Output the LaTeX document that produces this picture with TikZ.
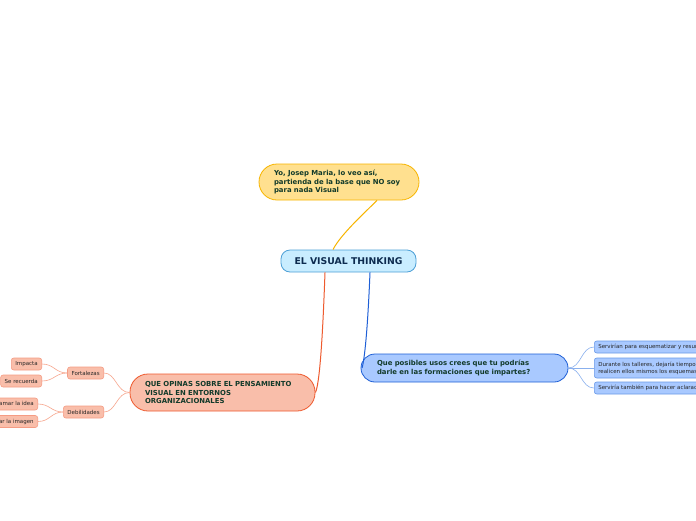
\documentclass[tikz,border=0pt]{standalone}
\usepackage{fontspec}
\setmainfont{DejaVu Sans}
\usetikzlibrary{calc}
\definecolor{navy}{HTML}{0D2B4F}
\definecolor{dkgreen}{HTML}{123A2A}
\definecolor{cfill}{HTML}{C9EDFF}
\definecolor{cdraw}{HTML}{4C9FD6}
\definecolor{tfill}{HTML}{FFE08F}
\definecolor{tdraw}{HTML}{F7B500}
\definecolor{lfill}{HTML}{F9BEAA}
\definecolor{ldraw}{HTML}{EE5A2E}
\definecolor{lsdraw}{HTML}{F59C84}
\definecolor{lsline}{HTML}{F7A68E}
\definecolor{rfill}{HTML}{A9C9FF}
\definecolor{rdraw}{HTML}{1E5FD6}
\definecolor{rsdraw}{HTML}{6A9AE8}
\definecolor{rsline}{HTML}{8AB0EE}
\begin{document}
\begin{tikzpicture}[x=1pt,y=-1pt,
  central/.style={draw=cdraw,fill=cfill,line width=0.8pt,rounded corners=9pt,
    minimum width=135pt,minimum height=22pt,inner sep=0pt,text=navy,
    font=\fontsize{9.3}{10}\selectfont\bfseries},
  mainbox/.style={line width=0.8pt,inner xsep=15pt,inner ysep=0pt,align=left,
    text=dkgreen,font=\fontsize{6.9}{8.5}\selectfont\bfseries},
  smallbox/.style={line width=0.6pt,rounded corners=2.5pt,inner xsep=4pt,inner ysep=0pt,
    align=left,text=black!85,font=\fontsize{5.5}{7}\selectfont},
  lsub/.style={smallbox,draw=lsdraw,fill=lfill,minimum height=12pt},
  rsub/.style={smallbox,draw=rsdraw,fill=rfill},
  mainline/.style={line width=1pt},
  subline/.style={line width=0.6pt}]
\useasboundingbox (0,0) rectangle (696,520);
\clip (0,0) rectangle (696,520);
\fill[white] (0,0) rectangle (696,520);

% nodes
\node[central] (c) at (348.5,261) {EL VISUAL THINKING};
\node[mainbox,draw=tdraw,fill=tfill,rounded corners=18pt,text width=130pt,minimum height=36pt] (t) at (339,182)
  {Yo, Josep Maria, lo veo así,\\partienda de la base que NO soy\\para nada Visual};
\node[mainbox,draw=ldraw,fill=lfill,rounded corners=18pt,text width=155pt,minimum height=37pt] (lm) at (222.5,392.5)
  {QUE OPINAS SOBRE EL PENSAMIENTO\\VISUAL EN ENTORNOS\\ORGANIZACIONALES};
\node[mainbox,draw=rdraw,fill=rfill,rounded corners=14pt,inner xsep=16pt,text width=175pt,minimum height=28pt] (rm) at (464.5,368)
  {Que posibles usos crees que tu podrías\\darle en las formaciones que impartes?};

\node[lsub,anchor=east] (fo) at (104,373) {Fortalezas};
\node[lsub,anchor=east] (de) at (104,412) {Debilidades};
\node[lsub,anchor=east] (im) at (42,364) {Impacta};
\node[lsub,anchor=east] (se) at (42,381) {Se recuerda};
\node[lsub,anchor=east] (di) at (38,404) {Diagramar la idea};
\node[lsub,anchor=east] (in) at (38,421.5) {Interpretar la imagen};

\node[rsub,anchor=west,minimum height=12pt] (r1) at (594,347) {Servirían para esquematizar y resumir};
\node[rsub,anchor=west,minimum height=20pt] (r2) at (594,368) {Durante los talleres, dejaría tiempo para que\\realicen ellos mismos los esquemas};
\node[rsub,anchor=west,minimum height=12pt] (r3) at (594,388) {Serviría también para hacer aclaraciones};

% main connectors
\draw[mainline,draw=tdraw] ($(t.south)+(38,0)$) .. controls ($(t.south)+(26,12)$) and ($(c.north)+(-8,-15)$) .. ($(c.north)+(-15.5,0)$);
\draw[mainline,draw=ldraw] ($(c.south)+(-23.5,0)$) .. controls ($(c.south)+(-26,70)$) and ($(lm.east)+(4,-8)$) .. (lm.east);
\draw[mainline,draw=rdraw] ($(c.south)+(21.5,0)$) .. controls ($(c.south)+(19,60)$) and ($(rm.west)+(4,-10)$) .. ($(rm.west)+(1.5,0)$);

% sub connectors
\foreach \n in {fo,de}
  \draw[subline,draw=lsline] (lm.west) .. controls ($(lm.west)+(-13,0)$) and ($(\n.east)+(12,0)$) .. (\n.east);
\foreach \n in {im,se}
  \draw[subline,draw=lsline] (fo.west) .. controls ($(fo.west)+(-12,0)$) and ($(\n.east)+(12,0)$) .. (\n.east);
\foreach \n in {di,in}
  \draw[subline,draw=lsline] (de.west) .. controls ($(de.west)+(-12,0)$) and ($(\n.east)+(12,0)$) .. (\n.east);
\foreach \n in {r1,r2,r3}
  \draw[subline,draw=rsline] (rm.east) .. controls ($(rm.east)+(13,0)$) and ($(\n.west)+(-13,0)$) .. (\n.west);
\end{tikzpicture}
\end{document}
